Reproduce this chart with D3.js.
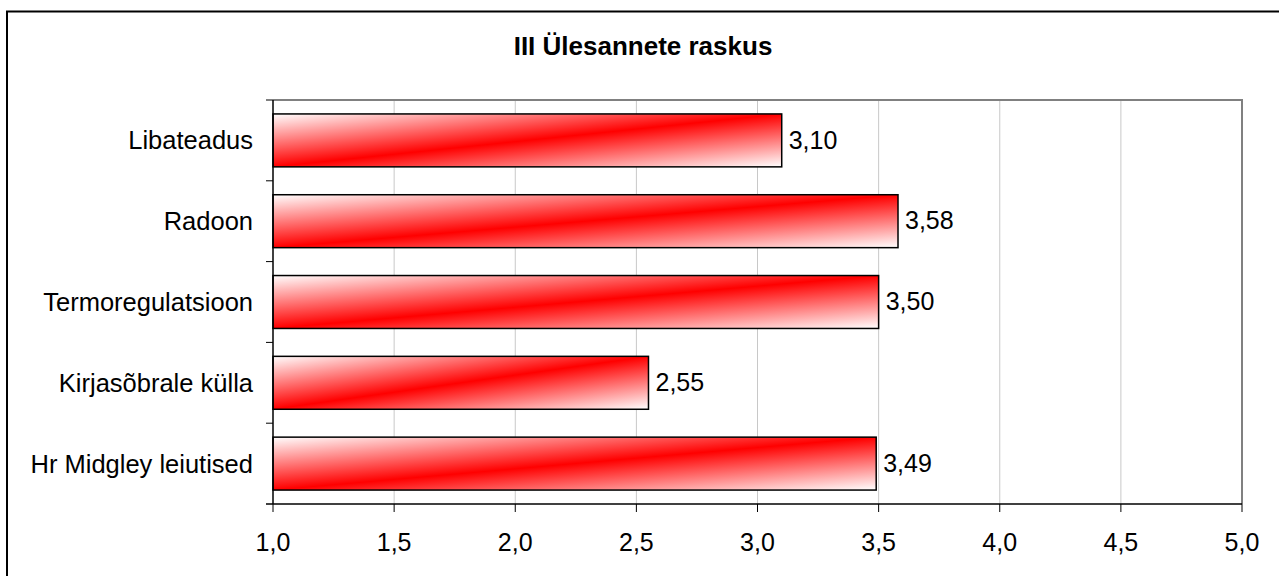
<!DOCTYPE html>
<html>
<head>
<meta charset="utf-8">
<script src="https://cdn.jsdelivr.net/npm/d3@7"></script>
<style>
  body { margin: 0; background: #fff; }
  svg text { font-family: "Liberation Sans", Arial, sans-serif; fill: #000; }
</style>
</head>
<body>
<div id="chart"></div>
<script>

var title = 'III Ülesannete raskus';
var categories = ['Libateadus', 'Radoon', 'Termoregulatsioon', 'Kirjasõbrale külla', 'Hr Midgley leiutised'];
var values = [3.10, 3.58, 3.50, 2.55, 3.49];
var xTicks = [1.0, 1.5, 2.0, 2.5, 3.0, 3.5, 4.0, 4.5, 5.0];

var W = 1279, H = 576;
var margin = {top: 100, left: 273, right: 37, bottom: 72};

var svg = d3.select('#chart').append('svg')
	.attr('width', W)
	.attr('height', H);

var defs = svg.append('defs');
var grad = defs.append('linearGradient')
	.attr('id', 'barFill')
	.attr('x1', 0).attr('y1', 0)
	.attr('x2', 1).attr('y2', 1);
grad.append('stop').attr('offset', '0%').attr('stop-color', '#ffffff');
grad.append('stop').attr('offset', '50%').attr('stop-color', '#ff0000');
grad.append('stop').attr('offset', '100%').attr('stop-color', '#ffffff');

// outer chart border (runs off the right and bottom edge)
svg.append('rect')
	.attr('x', 7).attr('y', 11.5)
	.attr('width', W + 20).attr('height', H + 20)
	.attr('fill', 'none')
	.attr('stroke', '#000')
	.attr('stroke-width', 2);

svg.append('text')
	.attr('x', 643)
	.attr('y', 55)
	.attr('text-anchor', 'middle')
	.style('font-size', '26px')
	.style('font-weight', 'bold')
	.text(title);

var x = d3.scaleLinear()
	.domain([1, 5])
	.range([margin.left, W - margin.right]);

var y = d3.scaleBand()
	.domain(categories)
	.range([margin.top, H - margin.bottom])
	.paddingInner(0.345)
	.paddingOuter(0.1725);

var fmt = function(v, p) { return d3.format('.' + p + 'f')(v).replace('.', ','); };

// vertical gridlines
svg.append('g').selectAll('line')
	.data(xTicks.slice(1, -1))
	.enter().append('line')
		.attr('x1', function(d) { return x(d); })
		.attr('x2', function(d) { return x(d); })
		.attr('y1', margin.top)
		.attr('y2', H - margin.bottom)
		.attr('stroke', '#c8c8c8')
		.attr('stroke-width', 1);

// bars
svg.append('g').selectAll('rect')
	.data(values)
	.enter().append('rect')
		.attr('x', x(1))
		.attr('y', function(d, i) { return y(categories[i]); })
		.attr('width', function(d) { return x(d) - x(1); })
		.attr('height', y.bandwidth())
		.attr('fill', 'url(#barFill)')
		.attr('stroke', '#000')
		.attr('stroke-width', 1.5);

// value labels
svg.append('g').selectAll('text')
	.data(values)
	.enter().append('text')
		.attr('x', function(d) { return x(d) + 7; })
		.attr('y', function(d, i) { return y(categories[i]) + y.bandwidth() / 2; })
		.attr('dy', '0.33em')
		.style('font-size', '25px')
		.text(function(d) { return fmt(d, 2); });

// plot area border top / right (gray)
svg.append('path')
	.attr('d', 'M' + (x(1) - 7) + ',' + margin.top + 'H' + x(5) + 'V' + (H - margin.bottom))
	.attr('fill', 'none')
	.attr('stroke', '#808080')
	.attr('stroke-width', 2);

// y axis with ticks between categories
var step = y.step();
var yBounds = categories.map(function(c) { return y(c) - step * 0.1725; }).slice(1);

var yAxis = svg.append('g');
yAxis.append('line')
	.attr('x1', x(1)).attr('x2', x(1))
	.attr('y1', margin.top).attr('y2', H - margin.bottom)
	.attr('stroke', '#000').attr('stroke-width', 1.5);
yAxis.selectAll('line.tick')
	.data(yBounds)
	.enter().append('line')
		.attr('class', 'tick')
		.attr('x1', x(1) - 7).attr('x2', x(1))
		.attr('y1', function(d) { return d; })
		.attr('y2', function(d) { return d; })
		.attr('stroke', '#000');
yAxis.selectAll('text')
	.data(categories)
	.enter().append('text')
		.attr('x', x(1) - 20)
		.attr('y', function(d) { return y(d) + y.bandwidth() / 2; })
		.attr('dy', '0.35em')
		.attr('text-anchor', 'end')
		.style('font-size', '25.5px')
		.text(function(d) { return d; });

// x axis
var xAxis = svg.append('g')
	.attr('transform', 'translate(0,' + (H - margin.bottom) + ')');
xAxis.append('line')
	.attr('x1', x(1) - 7).attr('x2', x(5))
	.attr('stroke', '#000').attr('stroke-width', 1.5);
xAxis.selectAll('line.tick')
	.data(xTicks)
	.enter().append('line')
		.attr('class', 'tick')
		.attr('x1', function(d) { return x(d); })
		.attr('x2', function(d) { return x(d); })
		.attr('y1', 0).attr('y2', 8)
		.attr('stroke', '#000');
xAxis.selectAll('text')
	.data(xTicks)
	.enter().append('text')
		.attr('x', function(d) { return x(d); })
		.attr('y', 47)
		.attr('text-anchor', 'middle')
		.style('font-size', '25px')
		.text(function(d) { return fmt(d, 1); });

</script>
</body>
</html>
